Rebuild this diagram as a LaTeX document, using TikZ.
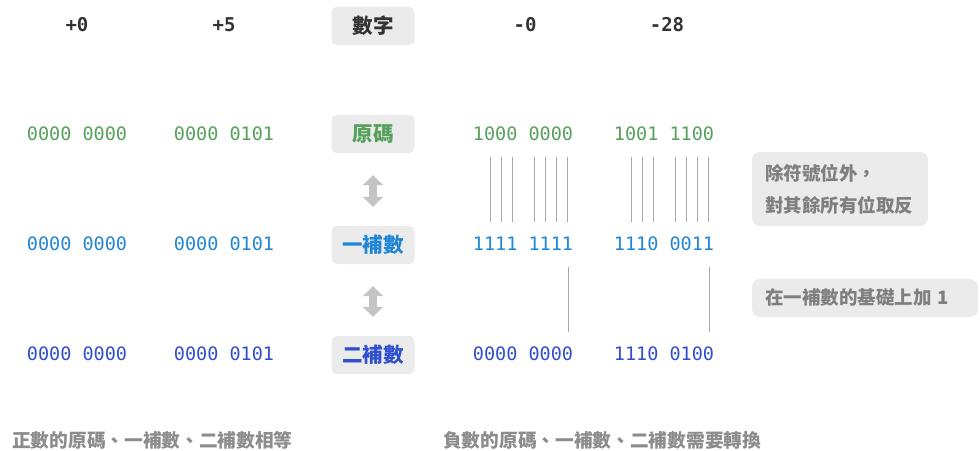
\documentclass[tikz,border=0pt]{standalone}
\usepackage{fontspec}
\setmonofont{DejaVu Sans Mono}
\newfontfamily\cjk{Noto Sans CJK TC}
\usepackage{tikz}
\usetikzlibrary{arrows.meta}
\definecolor{headc}{HTML}{333333}
\definecolor{yuanc}{HTML}{55A05A}
\definecolor{yic}{HTML}{1F86D6}
\definecolor{erc}{HTML}{2F4FCF}
\definecolor{boxc}{HTML}{EBEBEB}
\definecolor{notec}{HTML}{7F7F7F}
\definecolor{arrc}{HTML}{C4C4C4}
\definecolor{bitc}{HTML}{A8A8A8}
\tikzset{
    numhead/.style = {font=\ttfamily\bfseries\fontsize{19}{22}\selectfont,text=headc},
    bits/.style = {font=\ttfamily\fontsize{18.5}{22}\selectfont,inner sep=0pt},
    bitsyuan/.style = {bits,text=yuanc},
    bitsyi/.style = {bits,text=yic},
    bitser/.style = {bits,text=erc},
    kind/.style = {rectangle,rounded corners=5pt,fill=boxc,minimum width=83pt,minimum height=38pt,font=\cjk\bfseries\fontsize{20.5}{24}\selectfont},
    note/.style = {rectangle,rounded corners=8pt,fill=boxc,inner xsep=13pt,align=left,font=\cjk\bfseries\fontsize{18.5}{32}\selectfont,text=notec},
    caption/.style = {anchor=west,inner sep=0pt,font=\cjk\bfseries\fontsize{18.7}{22}\selectfont,text=notec!90},
    dblarrow/.style = {arrc,line width=8pt,{Triangle[width=20pt,length=10pt]}-{Triangle[width=20pt,length=10pt]}},
    bitline/.style = {bitc,line width=0.8pt}
}
\begin{document}
\begin{tikzpicture}[x=1pt,y=-1pt]
\useasboundingbox (0,0) rectangle (980,450);
%
\node[numhead] at (77,25) (p0) {+0};
\node[numhead] at (224,25) (p5) {+5};
\node[kind,text=headc] at (373,26) (shu) {數字};
\node[numhead] at (525,25) (m0) {-0};
\node[numhead] at (667,25) (m28) {-28};
%
\node[bitsyuan] at (77,134) (p0yuan) {0000 0000};
\node[bitsyuan] at (224,134) (p5yuan) {0000 0101};
\node[kind,text=yuanc] at (373,134) (yuan) {原碼};
\node[bitsyuan] at (523,134) (m0yuan) {1000 0000};
\node[bitsyuan] at (664,134) (m28yuan) {1001 1100};
%
\node[bitsyi] at (77,244) (p0yi) {0000 0000};
\node[bitsyi] at (224,244) (p5yi) {0000 0101};
\node[kind,text=yic] at (373,245) (yi) {一補數};
\node[bitsyi] at (523,244) (m0yi) {1111 1111};
\node[bitsyi] at (664,244) (m28yi) {1110 0011};
%
\node[bitser] at (77,354) (p0er) {0000 0000};
\node[bitser] at (224,354) (p5er) {0000 0101};
\node[kind,text=erc] at (373,355) (er) {二補數};
\node[bitser] at (523,354) (m0er) {0000 0000};
\node[bitser] at (664,354) (m28er) {1110 0100};
%
\node[note,text width=150pt,minimum height=74pt] at (840,189) (flip) {除符號位外，\\對其餘所有位取反};
\node[note,text width=200pt,minimum height=38pt] at (865,298) (plus) {在一補數的基礎上加 1};
%
\node[caption] at (12,440) (poscap) {正數的原碼、一補數、二補數相等};
\node[caption] at (443,440) (negcap) {負數的原碼、一補數、二補數需要轉換};
%
\draw[dblarrow,shorten <=22pt,shorten >=19pt] (yuan.south) -- (yi.north);
\draw[dblarrow,shorten <=22pt,shorten >=19pt] (yi.south) -- (er.north);
%
\foreach \x in {490,501,512,534,545,556,567,631,642,653,675,686,697,708}
    \draw[bitline] (\x,157) -- (\x,222);
\draw[bitline] (568,267) -- (568,332);
\draw[bitline] (709,267) -- (709,332);
\end{tikzpicture}
\end{document}
